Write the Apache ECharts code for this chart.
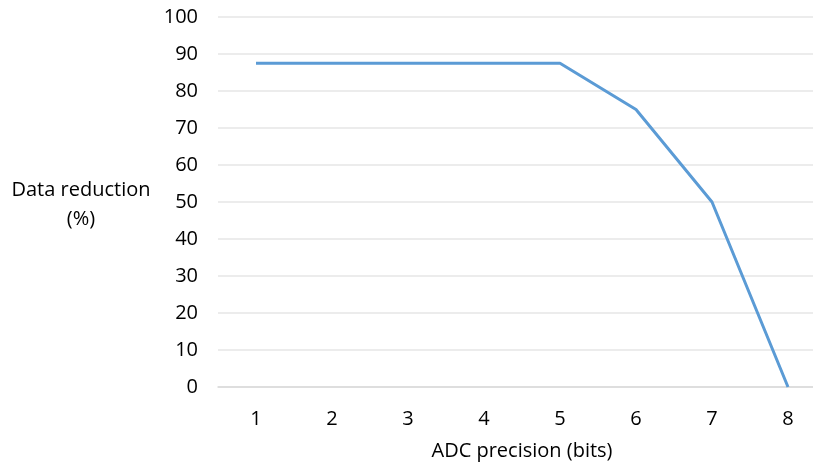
<!DOCTYPE html>
<html><head><meta charset="utf-8">
<script src="https://cdn.jsdelivr.net/npm/echarts@6/dist/echarts.min.js"></script>
<style>html,body{margin:0;padding:0;background:#fff}#c{width:813px;height:463px}</style>
</head><body><div id="c"></div>
<script>
const categories = ['1','2','3','4','5','6','7','8'];
const reduction = [87.5, 87.5, 87.5, 87.5, 87.5, 75, 50, 0];
const yTicks = [0,10,20,30,40,50,60,70,80,90,100];
const chart = echarts.init(document.getElementById('c'));
const F = '"Open Sans", "Liberation Sans", sans-serif';
const FS = 20;
chart.setOption({
  animation:false,
  grid:{left:218, width:608, top:17, bottom:76, outerBoundsMode:'none', containLabel:false},
  xAxis:{type:'category', data:categories, boundaryGap:true,
    axisLine:{show:true, lineStyle:{color:'#d9d9d9', width:1.5}},
    axisTick:{show:false},
    axisLabel:{color:'#000', fontSize:FS, fontFamily:F, margin:22},
    splitLine:{show:false}
  },
  yAxis:{type:'value', min:yTicks[0], max:yTicks[yTicks.length-1], interval:10,
    axisLine:{show:false}, axisTick:{show:false},
    axisLabel:{color:'#000', fontSize:FS, fontFamily:F, margin:20},
    splitLine:{lineStyle:{color:'#e6e6e6', width:1.5}}
  },
  graphic:[
    {type:'text', x:81, y:190, style:{text:'Data reduction', align:'center', verticalAlign:'middle', fill:'#000', font:FS+'px '+F}},
    {type:'text', x:81, y:219, style:{text:'(%)', align:'center', verticalAlign:'middle', fill:'#000', font:FS+'px '+F}},
    {type:'text', x:522, y:451, style:{text:'ADC precision (bits)', align:'center', verticalAlign:'middle', fill:'#000', font:FS+'px '+F}}
  ],
  series:[{type:'line', data:reduction, symbol:'none',
    lineStyle:{color:'#5b9bd5', width:3}, itemStyle:{color:'#5b9bd5'}}]
});
</script></body></html>
